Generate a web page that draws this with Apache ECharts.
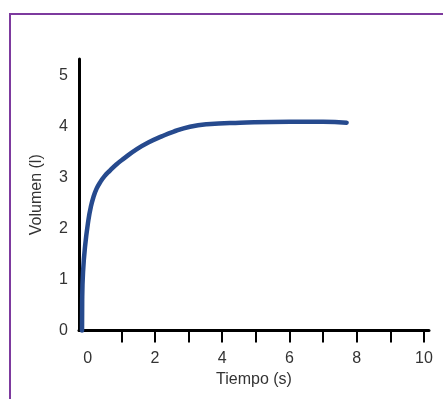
<!DOCTYPE html>
<html>
<head>
<meta charset="utf-8">
<script src="https://cdn.jsdelivr.net/npm/echarts@6/dist/echarts.min.js"></script>
<style>
  html, body { margin: 0; padding: 0; background: #ffffff; }
  #chart { width: 443px; height: 399px; }
</style>
</head>
<body>
<div id="chart"></div>
<script>
// Volume filled over time (seconds -> litres)
const time   = [-0.17, -0.165, -0.14, -0.08, 0.02, 0.09, 0.17, 0.26, 0.36, 0.50, 0.66, 0.85, 1.06, 1.46, 1.80, 2.20, 2.54, 3.04, 3.54, 4.53, 6.01, 7.00, 7.70];
const volume = [0.00, 0.60, 1.15, 1.65, 2.17, 2.42, 2.62, 2.78, 2.90, 3.03, 3.14, 3.26, 3.37, 3.56, 3.69, 3.81, 3.90, 4.00, 4.05, 4.08, 4.10, 4.10, 4.08];

const xTicks  = [1, 2, 3, 4, 5, 6, 7, 8, 9, 10];
const xLabels = [0, 2, 4, 6, 8, 10];
const yLabels = [0, 1, 2, 3, 4, 5];

const xName = 'Tiempo (s)';
const yName = 'Volumen (l)';

const font = 'Liberation Sans, Arial, sans-serif';
const textColor = '#333333';

const chart = echarts.init(document.getElementById('chart'), null, { renderer: 'canvas' });

chart.setOption({
  backgroundColor: '#ffffff',
  animation: false,
  graphic: [{
    type: 'rect',
    shape: { x: 10, y: 14, width: 500, height: 500 },
    style: { fill: 'none', stroke: '#7d3a9e', lineWidth: 2 },
    silent: true
  }],
  grid: { left: 79, right: 14, top: 59, bottom: 68.5 },
  xAxis: {
    type: 'value',
    min: -0.26,
    max: 10.15,
    name: xName,
    nameLocation: 'middle',
    nameGap: 38,
    nameTextStyle: { fontFamily: font, fontSize: 16, color: textColor },
    axisLine: { show: true, onZero: false, lineStyle: { color: '#000000', width: 3 } },
    axisTick: { show: true, length: 12, customValues: xTicks, lineStyle: { color: '#000000', width: 2 } },
    axisLabel: { customValues: xLabels, margin: 20, fontFamily: font, fontSize: 16, color: textColor },
    splitLine: { show: false }
  },
  yAxis: {
    type: 'value',
    min: 0,
    max: 5.33,
    name: yName,
    nameLocation: 'middle',
    nameGap: 34,
    nameTextStyle: { fontFamily: font, fontSize: 16, color: textColor },
    axisLine: { show: true, onZero: false, lineStyle: { color: '#000000', width: 3 } },
    axisTick: { show: false },
    axisLabel: { customValues: yLabels, margin: 11, fontFamily: font, fontSize: 16, color: textColor },
    splitLine: { show: false }
  },
  series: [{
    type: 'line',
    data: time.map((t, i) => [t, volume[i]]),
    smooth: 0.5,
    showSymbol: false,
    clip: false,
    lineStyle: { color: '#264a8e', width: 4.5, cap: 'round' }
  }]
});
</script>
</body>
</html>
